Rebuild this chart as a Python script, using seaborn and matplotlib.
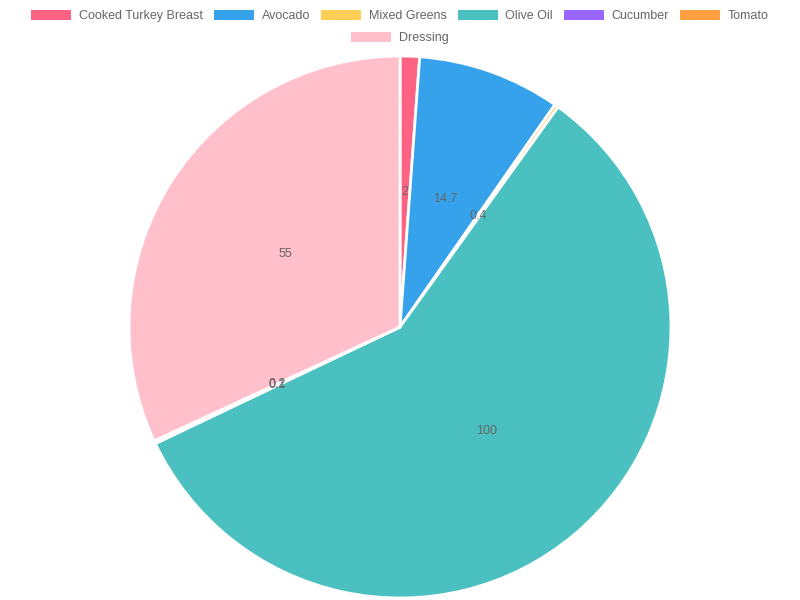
import numpy as np
import matplotlib
matplotlib.use("Agg")
import matplotlib.pyplot as plt
import seaborn as sns
from matplotlib.patches import Patch

sns.set_theme(style="white")
plt.rcParams['font.family'] = ['Liberation Sans', 'DejaVu Sans']

categories = ["Cooked Turkey Breast", "Avocado", "Mixed Greens", "Olive Oil", "Cucumber", "Tomato", "Dressing"]
values = [2, 14.7, 0.4, 100, 0.1, 0.2, 55]
colors = ["#FF6384", "#36A2EB", "#FFCE56", "#4BC0C0", "#9966FF", "#FF9F40", "#FFC0CB"]

fig = plt.figure(figsize=(8, 6), dpi=100)
ax = fig.add_axes([(400-271)/800, 2/600, 542/800, 542/600])
wedges, _ = ax.pie(values, colors=colors, startangle=90, counterclock=False,
                   wedgeprops=dict(edgecolor="white", linewidth=2), radius=1)
ax.set_xlim(-1, 1); ax.set_ylim(-1, 1); ax.set_aspect("auto"); ax.axis("off")
for w, v in zip(wedges, values):
    a = np.deg2rad((w.theta1 + w.theta2) / 2)
    ax.text(0.5*np.cos(a), 0.5*np.sin(a), f"{v:g}", ha="center", va="center", fontsize=9, color="#666666")

h = [Patch(facecolor=c, edgecolor="none") for c in colors]
kw = dict(frameon=False, fontsize=9, labelcolor="#666666", handlelength=3.2, handleheight=0.8,
          handletextpad=0.6, columnspacing=0.9, borderpad=0)
fig.legend(h[:6], categories[:6], loc="center", bbox_to_anchor=(0.5, 1-16/600), ncol=6, **kw)
fig.legend(h[6:], categories[6:], loc="center", bbox_to_anchor=(0.5, 1-38/600), ncol=1, **kw)
fig.savefig("out.png", dpi=100)
